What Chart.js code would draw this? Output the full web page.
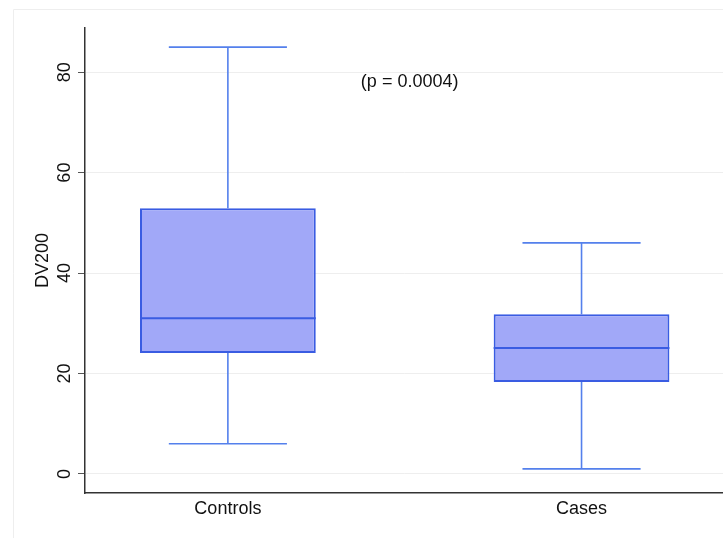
<!DOCTYPE html>
<html>
<head>
<meta charset="utf-8">
<script src="https://cdn.jsdelivr.net/npm/chart.js@4.4.1/dist/chart.umd.min.js"></script>
<style>
  html, body { margin: 0; padding: 0; background: #fff; overflow: hidden; }
  #wrap { width: 723px; height: 538px; }
</style>
</head>
<body>
<div id="wrap"><canvas id="boxChart" width="723" height="538"></canvas></div>
<script>
// Data (DV200 by group)
const groups = ['Controls', 'Cases'];
const groupPos = [1, 2];
const whiskerLow = [6, 1];
const q1 = [24.1, 18.3];
const median = [31, 25.1];
const q3 = [52.9, 31.8];
const whiskerHigh = [85, 46];
const yTicks = [0, 20, 40, 60, 80];
const pLabel = '(p = 0.0004)';

const FONT = 'Liberation Sans, Arial, Helvetica, sans-serif';
const BOX_FILL = 'rgb(161, 168, 248)';
const BOX_LINE = 'rgb(58, 92, 226)';
const WHISKER = 'rgb(84, 128, 236)';

// Whiskers, medians and the p-value note, placed with the chart scales
const boxExtras = {
    id: 'boxExtras',
    beforeDraw(chart) {
        const ctx = chart.ctx;
        ctx.save();
        ctx.strokeStyle = '#eeeeee';
        ctx.lineWidth = 1;
        ctx.beginPath();
        ctx.moveTo(13.5, 538);
        ctx.lineTo(13.5, 9.5);
        ctx.lineTo(723, 9.5);
        ctx.stroke();
        ctx.restore();
    },
    beforeDatasetsDraw(chart) {
        const { ctx, scales: { x, y } } = chart;
        ctx.save();
        ctx.strokeStyle = WHISKER;
        ctx.lineWidth = 1.6;
        groupPos.forEach((p, i) => {
            const cx = x.getPixelForValue(p);
            const half = (x.getPixelForValue(p + 0.167) - cx);
            ctx.beginPath();
            ctx.moveTo(cx, y.getPixelForValue(q3[i]));
            ctx.lineTo(cx, y.getPixelForValue(whiskerHigh[i]));
            ctx.moveTo(cx - half, y.getPixelForValue(whiskerHigh[i]));
            ctx.lineTo(cx + half, y.getPixelForValue(whiskerHigh[i]));
            ctx.moveTo(cx, y.getPixelForValue(q1[i]));
            ctx.lineTo(cx, y.getPixelForValue(whiskerLow[i]));
            ctx.moveTo(cx - half, y.getPixelForValue(whiskerLow[i]));
            ctx.lineTo(cx + half, y.getPixelForValue(whiskerLow[i]));
            ctx.stroke();
        });
        ctx.restore();
    },
    afterDatasetsDraw(chart) {
        const { ctx, scales: { x, y } } = chart;
        const meta = chart.getDatasetMeta(0);
        ctx.save();
        ctx.strokeStyle = BOX_LINE;
        ctx.lineWidth = 2;
        meta.data.forEach((bar, i) => {
            const my = y.getPixelForValue(median[i]);
            ctx.beginPath();
            ctx.moveTo(bar.x - bar.width / 2, my);
            ctx.lineTo(bar.x + bar.width / 2, my);
            ctx.stroke();
        });
        ctx.fillStyle = '#111';
        ctx.font = '18px ' + FONT;
        ctx.textAlign = 'center';
        ctx.textBaseline = 'middle';
        ctx.fillText(pLabel, x.getPixelForValue(1.514), y.getPixelForValue(78));
        ctx.restore();
    }
};

const ctx = document.getElementById('boxChart').getContext('2d');
new Chart(ctx, {
    type: 'bar',
    data: {
        datasets: [{
            label: 'IQR',
            data: groupPos.map((p, i) => ({ x: p, y: [q1[i], q3[i]] })),
            backgroundColor: BOX_FILL,
            borderColor: BOX_LINE,
            borderWidth: 2,
            borderSkipped: false,
            barPercentage: 0.497,
            categoryPercentage: 1,
            grouped: false
        }]
    },
    options: {
        responsive: false,
        animation: false,
        layout: { padding: { top: 28, right: 0, bottom: 0, left: 0 } },
        plugins: {
            legend: { display: false },
            tooltip: { enabled: false }
        },
        scales: {
            x: {
                type: 'linear',
                offset: false,
                min: 0.596,
                max: 2.4,
                afterBuildTicks: (scale) => { scale.ticks = groupPos.map(v => ({ value: v })); },
                afterFit: (scale) => { scale.height = 45; },
                grid: { display: false, drawTicks: false, offset: false },
                border: { display: true, color: '#333', width: 1.5 },
                ticks: {
                    padding: 5,
                    color: '#111',
                    font: { family: FONT, size: 18 },
                    callback: (v) => groups[groupPos.indexOf(v)] || ''
                }
            },
            y: {
                min: -3.8,
                max: 88.8,
                afterBuildTicks: (scale) => { scale.ticks = yTicks.map(v => ({ value: v })); },
                afterFit: (scale) => { scale.width = 85; },
                grid: { color: '#eeeeee', lineWidth: 1, tickColor: '#555', tickLength: 7 },
                border: { display: true, color: '#333', width: 1.5 },
                title: {
                    display: true,
                    text: 'DV200',
                    color: '#111',
                    font: { family: FONT, size: 18 },
                    padding: { top: 32, bottom: 0 }
                },
                ticks: {
                    minRotation: 90,
                    maxRotation: 90,
                    crossAlign: 'center',
                    padding: 3,
                    color: '#111',
                    font: { family: FONT, size: 18 }
                }
            }
        }
    },
    plugins: [boxExtras]
});
</script>
</body>
</html>
